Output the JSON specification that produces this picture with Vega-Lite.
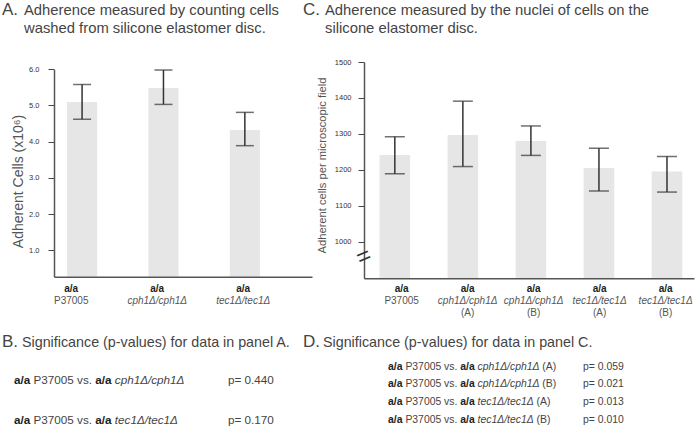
{
  "$schema": "https://vega.github.io/schema/vega-lite/v6.json",
  "background": "white",
  "width": 696,
  "height": 437,
  "autosize": {"type": "none"},
  "padding": 0,
  "config": {
    "view": {"stroke": null},
    "font": "Liberation Sans",
    "axis": {"grid": false, "labelFont": "Liberation Sans", "titleFont": "Liberation Sans"},
    "text": {"font": "Liberation Sans", "baseline": "alphabetic", "align": "left", "color": "#444"}
  },
  "datasets": {
    "adherenceA": [
      {"strain": "P37005", "mt": "a/a", "gene": "P37005", "rep": "", "mean": 5.10, "lo": 4.62, "hi": 5.58},
      {"strain": "cph1Δ/cph1Δ", "mt": "a/a", "gene": "cph1Δ/cph1Δ", "rep": "", "mean": 5.48, "lo": 5.03, "hi": 5.98},
      {"strain": "tec1Δ/tec1Δ", "mt": "a/a", "gene": "tec1Δ/tec1Δ", "rep": "", "mean": 4.32, "lo": 3.89, "hi": 4.81}
    ],
    "adherenceC": [
      {"strain": "P37005", "mt": "a/a", "gene": "P37005", "rep": "", "mean": 1241, "lo": 1189, "hi": 1292},
      {"strain": "cph1Δ/cph1Δ (A)", "mt": "a/a", "gene": "cph1Δ/cph1Δ", "rep": "(A)", "mean": 1297, "lo": 1209, "hi": 1391},
      {"strain": "cph1Δ/cph1Δ (B)", "mt": "a/a", "gene": "cph1Δ/cph1Δ", "rep": "(B)", "mean": 1280, "lo": 1240, "hi": 1322},
      {"strain": "tec1Δ/tec1Δ (A)", "mt": "a/a", "gene": "tec1Δ/tec1Δ", "rep": "(A)", "mean": 1205, "lo": 1141, "hi": 1260},
      {"strain": "tec1Δ/tec1Δ (B)", "mt": "a/a", "gene": "tec1Δ/tec1Δ", "rep": "(B)", "mean": 1195, "lo": 1138, "hi": 1237}
    ],
    "headings": [
      {"panel": "A", "letter": "A.", "line1": "Adherence measured by counting cells", "line2": "washed from silicone elastomer disc."},
      {"panel": "B", "letter": "B.", "line1": "Significance (p-values) for data in panel A.", "line2": ""},
      {"panel": "C", "letter": "C.", "line1": "Adherence measured by the nuclei of cells on the", "line2": "silicone elastomer disc."},
      {"panel": "D", "letter": "D.", "line1": "Significance (p-values) for data in panel C.", "line2": ""}
    ],
    "pvalsA": [
      {"cmp": "cph1", "a": "a/a", "s": "P37005 vs.", "b": "a/a", "g": "cph1Δ/cph1Δ", "r": "", "p": "p= 0.440"},
      {"cmp": "tec1", "a": "a/a", "s": "P37005 vs.", "b": "a/a", "g": "tec1Δ/tec1Δ", "r": "", "p": "p= 0.170"}
    ],
    "pvalsC": [
      {"cmp": "cph1A", "a": "a/a", "s": "P37005 vs.", "b": "a/a", "g": "cph1Δ/cph1Δ", "r": "(A)", "p": "p= 0.059"},
      {"cmp": "cph1B", "a": "a/a", "s": "P37005 vs.", "b": "a/a", "g": "cph1Δ/cph1Δ", "r": "(B)", "p": "p= 0.021"},
      {"cmp": "tec1A", "a": "a/a", "s": "P37005 vs.", "b": "a/a", "g": "tec1Δ/tec1Δ", "r": "(A)", "p": "p= 0.013"},
      {"cmp": "tec1B", "a": "a/a", "s": "P37005 vs.", "b": "a/a", "g": "tec1Δ/tec1Δ", "r": "(B)", "p": "p= 0.010"}
    ]
  },
  "layer": [
    {
      "data": {"name": "adherenceA"},
      "mark": {"type": "bar", "color": "#e6e6e6"},
      "encoding": {
        "x": {"field": "strain", "type": "nominal", "sort": null,
          "scale": {"domain": ["P37005", "cph1Δ/cph1Δ", "tec1Δ/tec1Δ"], "range": [54, 312], "paddingInner": 0.63, "paddingOuter": 0.4, "align": 0.2},
          "axis": {"orient": "top", "offset": -276.7, "title": null, "labels": false, "ticks": false, "domainColor": "#555", "domainWidth": 1.5, "zindex": 1}},
        "y": {"field": "mean", "type": "quantitative",
          "scale": {"domain": [0.27, 6], "range": [276.7, 69.3], "nice": false, "zero": false},
          "axis": {"orient": "left", "offset": -54, "title": "Adherent Cells (x10⁶)", "titleY": 181, "values": [1, 2, 3, 4, 5, 6], "format": ".1f", "tickSize": 6, "tickColor": "#444", "domainColor": "#555", "domainWidth": 1.5, "labelFontSize": 7.5, "labelColor": "#333", "labelPadding": 9, "titleFontSize": 14, "titleFontWeight": "normal", "titleColor": "#555", "titlePadding": 3}},
        "y2": {"datum": 0.27}
      }
    },
    {
      "data": {"name": "adherenceA"},
      "mark": {"type": "rule", "color": "#333", "strokeWidth": 1.5},
      "encoding": {
        "x": {"field": "strain", "type": "nominal", "sort": null, "axis": null,
          "scale": {"domain": ["P37005", "cph1Δ/cph1Δ", "tec1Δ/tec1Δ"], "range": [54, 312], "paddingInner": 0.63, "paddingOuter": 0.4, "align": 0.2}},
        "y": {"field": "lo", "type": "quantitative", "axis": null, "scale": {"domain": [0.27, 6], "range": [276.7, 69.3], "nice": false, "zero": false}},
        "y2": {"field": "hi"}
      }
    },
    {
      "data": {"name": "adherenceA"},
      "mark": {"type": "tick", "color": "#333", "thickness": 1.5, "size": 18},
      "encoding": {
        "x": {"field": "strain", "type": "nominal", "sort": null, "axis": null,
          "scale": {"domain": ["P37005", "cph1Δ/cph1Δ", "tec1Δ/tec1Δ"], "range": [54, 312], "paddingInner": 0.63, "paddingOuter": 0.4, "align": 0.2}},
        "y": {"field": "hi", "type": "quantitative", "axis": null, "scale": {"domain": [0.27, 6], "range": [276.7, 69.3], "nice": false, "zero": false}}
      }
    },
    {
      "data": {"name": "adherenceA"},
      "mark": {"type": "tick", "color": "#333", "thickness": 1.5, "size": 18},
      "encoding": {
        "x": {"field": "strain", "type": "nominal", "sort": null, "axis": null,
          "scale": {"domain": ["P37005", "cph1Δ/cph1Δ", "tec1Δ/tec1Δ"], "range": [54, 312], "paddingInner": 0.63, "paddingOuter": 0.4, "align": 0.2}},
        "y": {"field": "lo", "type": "quantitative", "axis": null, "scale": {"domain": [0.27, 6], "range": [276.7, 69.3], "nice": false, "zero": false}}
      }
    },
    {
      "data": {"name": "adherenceA"},
      "mark": {"type": "text", "fontSize": 10, "fontWeight": "bold", "color": "#222", "align": "center", "baseline": "middle"},
      "encoding": {
        "text": {"field": "mt"},
        "x": {"field": "strain", "type": "nominal", "sort": null, "axis": null,
          "scale": {"domain": ["P37005", "cph1Δ/cph1Δ", "tec1Δ/tec1Δ"], "range": [54, 312], "paddingInner": 0.63, "paddingOuter": 0.4, "align": 0.2}},
        "y": {"value": 289}
      }
    },
    {
      "data": {"name": "adherenceA"},
      "transform": [{"filter": "datum.gene == 'P37005'"}],
      "mark": {"type": "text", "fontSize": 10, "color": "#555", "align": "center", "baseline": "middle"},
      "encoding": {
        "text": {"field": "gene"},
        "x": {"field": "strain", "type": "nominal", "sort": null, "axis": null,
          "scale": {"domain": ["P37005", "cph1Δ/cph1Δ", "tec1Δ/tec1Δ"], "range": [54, 312], "paddingInner": 0.63, "paddingOuter": 0.4, "align": 0.2}},
        "y": {"value": 301}
      }
    },
    {
      "data": {"name": "adherenceA"},
      "transform": [{"filter": "datum.gene != 'P37005'"}],
      "mark": {"type": "text", "fontSize": 10, "fontStyle": "italic", "color": "#555", "align": "center", "baseline": "middle"},
      "encoding": {
        "text": {"field": "gene"},
        "x": {"field": "strain", "type": "nominal", "sort": null, "axis": null,
          "scale": {"domain": ["P37005", "cph1Δ/cph1Δ", "tec1Δ/tec1Δ"], "range": [54, 312], "paddingInner": 0.63, "paddingOuter": 0.4, "align": 0.2}},
        "y": {"value": 301}
      }
    },
    {
      "data": {"name": "adherenceC"},
      "mark": {"type": "bar", "color": "#e6e6e6"},
      "encoding": {
        "x": {"field": "strain", "type": "nominal", "sort": null,
          "scale": {"domain": ["P37005", "cph1Δ/cph1Δ (A)", "cph1Δ/cph1Δ (B)", "tec1Δ/tec1Δ (A)", "tec1Δ/tec1Δ (B)"], "range": [364, 694], "paddingInner": 0.55, "paddingOuter": 0.2, "align": 0.57},
          "axis": {"orient": "top", "offset": -278.3, "title": null, "labels": false, "ticks": false, "domainColor": "#555", "domainWidth": 1.5, "zindex": 1}},
        "y": {"field": "mean", "type": "quantitative",
          "scale": {"domain": [898, 1500], "range": [278.3, 62], "nice": false, "zero": false},
          "axis": {"orient": "left", "offset": -364, "title": "Adherent cells per microscopic field", "titleY": 165, "values": [1000, 1100, 1200, 1300, 1400, 1500], "format": "d", "tickSize": 6, "tickColor": "#444", "domainColor": "#555", "domainWidth": 1.5, "labelFontSize": 7.5, "labelColor": "#333", "labelPadding": 7, "titleFontSize": 11.2, "titleFontWeight": "normal", "titleColor": "#555", "titlePadding": 7}},
        "y2": {"datum": 898}
      }
    },
    {
      "data": {"name": "adherenceC"},
      "mark": {"type": "rule", "color": "#333", "strokeWidth": 1.5},
      "encoding": {
        "x": {"field": "strain", "type": "nominal", "sort": null, "axis": null,
          "scale": {"domain": ["P37005", "cph1Δ/cph1Δ (A)", "cph1Δ/cph1Δ (B)", "tec1Δ/tec1Δ (A)", "tec1Δ/tec1Δ (B)"], "range": [364, 694], "paddingInner": 0.55, "paddingOuter": 0.2, "align": 0.57}},
        "y": {"field": "lo", "type": "quantitative", "axis": null, "scale": {"domain": [898, 1500], "range": [278.3, 62], "nice": false, "zero": false}},
        "y2": {"field": "hi"}
      }
    },
    {
      "data": {"name": "adherenceC"},
      "mark": {"type": "tick", "color": "#333", "thickness": 1.5, "size": 20},
      "encoding": {
        "x": {"field": "strain", "type": "nominal", "sort": null, "axis": null,
          "scale": {"domain": ["P37005", "cph1Δ/cph1Δ (A)", "cph1Δ/cph1Δ (B)", "tec1Δ/tec1Δ (A)", "tec1Δ/tec1Δ (B)"], "range": [364, 694], "paddingInner": 0.55, "paddingOuter": 0.2, "align": 0.57}},
        "y": {"field": "hi", "type": "quantitative", "axis": null, "scale": {"domain": [898, 1500], "range": [278.3, 62], "nice": false, "zero": false}}
      }
    },
    {
      "data": {"name": "adherenceC"},
      "mark": {"type": "tick", "color": "#333", "thickness": 1.5, "size": 20},
      "encoding": {
        "x": {"field": "strain", "type": "nominal", "sort": null, "axis": null,
          "scale": {"domain": ["P37005", "cph1Δ/cph1Δ (A)", "cph1Δ/cph1Δ (B)", "tec1Δ/tec1Δ (A)", "tec1Δ/tec1Δ (B)"], "range": [364, 694], "paddingInner": 0.55, "paddingOuter": 0.2, "align": 0.57}},
        "y": {"field": "lo", "type": "quantitative", "axis": null, "scale": {"domain": [898, 1500], "range": [278.3, 62], "nice": false, "zero": false}}
      }
    },
    {
      "data": {"name": "adherenceC"},
      "mark": {"type": "text", "fontSize": 10, "fontWeight": "bold", "color": "#222", "align": "center", "baseline": "middle"},
      "encoding": {
        "text": {"field": "mt"},
        "x": {"field": "strain", "type": "nominal", "sort": null, "axis": null,
          "scale": {"domain": ["P37005", "cph1Δ/cph1Δ (A)", "cph1Δ/cph1Δ (B)", "tec1Δ/tec1Δ (A)", "tec1Δ/tec1Δ (B)"], "range": [364, 694], "paddingInner": 0.55, "paddingOuter": 0.2, "align": 0.57}},
        "y": {"value": 289}
      }
    },
    {
      "data": {"name": "adherenceC"},
      "transform": [{"filter": "datum.gene == 'P37005'"}],
      "mark": {"type": "text", "fontSize": 10, "color": "#555", "align": "center", "baseline": "middle"},
      "encoding": {
        "text": {"field": "gene"},
        "x": {"field": "strain", "type": "nominal", "sort": null, "axis": null,
          "scale": {"domain": ["P37005", "cph1Δ/cph1Δ (A)", "cph1Δ/cph1Δ (B)", "tec1Δ/tec1Δ (A)", "tec1Δ/tec1Δ (B)"], "range": [364, 694], "paddingInner": 0.55, "paddingOuter": 0.2, "align": 0.57}},
        "y": {"value": 301}
      }
    },
    {
      "data": {"name": "adherenceC"},
      "transform": [{"filter": "datum.gene != 'P37005'"}],
      "mark": {"type": "text", "fontSize": 10, "fontStyle": "italic", "color": "#555", "align": "center", "baseline": "middle"},
      "encoding": {
        "text": {"field": "gene"},
        "x": {"field": "strain", "type": "nominal", "sort": null, "axis": null,
          "scale": {"domain": ["P37005", "cph1Δ/cph1Δ (A)", "cph1Δ/cph1Δ (B)", "tec1Δ/tec1Δ (A)", "tec1Δ/tec1Δ (B)"], "range": [364, 694], "paddingInner": 0.55, "paddingOuter": 0.2, "align": 0.57}},
        "y": {"value": 301}
      }
    },
    {
      "data": {"name": "adherenceC"},
      "transform": [{"filter": "datum.rep != ''"}],
      "mark": {"type": "text", "fontSize": 10, "color": "#555", "align": "center", "baseline": "middle"},
      "encoding": {
        "text": {"field": "rep"},
        "x": {"field": "strain", "type": "nominal", "sort": null, "axis": null,
          "scale": {"domain": ["P37005", "cph1Δ/cph1Δ (A)", "cph1Δ/cph1Δ (B)", "tec1Δ/tec1Δ (A)", "tec1Δ/tec1Δ (B)"], "range": [364, 694], "paddingInner": 0.55, "paddingOuter": 0.2, "align": 0.57}},
        "y": {"value": 313}
      }
    },
    {
      "data": {"name": "adherenceC"},
      "transform": [{"filter": "datum.strain == 'P37005'"}],
      "mark": {"type": "text", "text": "=", "angle": -23, "fontSize": 24, "align": "center", "baseline": "middle", "color": "#333"},
      "encoding": {
        "x": {"value": 364},
        "y": {"datum": 957, "type": "quantitative", "axis": null, "scale": {"domain": [898, 1500], "range": [278.3, 62], "nice": false, "zero": false}}
      }
    },
    {
      "data": {"name": "headings"},
      "transform": [{"filter": "datum.panel == 'A' || datum.panel == 'B'"}],
      "mark": {"type": "text", "fontSize": 17},
      "encoding": {
        "text": {"field": "letter"},
        "x": {"value": 2},
        "y": {"field": "panel", "type": "nominal", "axis": null, "scale": {"type": "point", "domain": ["A", "B"], "range": [15, 347], "padding": 0}}
      }
    },
    {
      "data": {"name": "headings"},
      "transform": [{"filter": "datum.panel == 'A'"}],
      "mark": {"type": "text", "fontSize": 14.8},
      "encoding": {"text": {"field": "line1"}, "x": {"value": 24}, "y": {"value": 15}}
    },
    {
      "data": {"name": "headings"},
      "transform": [{"filter": "datum.panel == 'B'"}],
      "mark": {"type": "text", "fontSize": 14.3},
      "encoding": {"text": {"field": "line1"}, "x": {"value": 22}, "y": {"value": 347}}
    },
    {
      "data": {"name": "headings"},
      "transform": [{"filter": "datum.panel == 'C' || datum.panel == 'D'"}],
      "mark": {"type": "text", "fontSize": 17},
      "encoding": {
        "text": {"field": "letter"},
        "x": {"value": 303},
        "y": {"field": "panel", "type": "nominal", "axis": null, "scale": {"type": "point", "domain": ["C", "D"], "range": [15, 347], "padding": 0}}
      }
    },
    {
      "data": {"name": "headings"},
      "transform": [{"filter": "datum.panel == 'C'"}],
      "mark": {"type": "text", "fontSize": 14.8},
      "encoding": {"text": {"field": "line1"}, "x": {"value": 325}, "y": {"value": 15}}
    },
    {
      "data": {"name": "headings"},
      "transform": [{"filter": "datum.panel == 'D'"}],
      "mark": {"type": "text", "fontSize": 14.3},
      "encoding": {"text": {"field": "line1"}, "x": {"value": 323}, "y": {"value": 347}}
    },
    {
      "data": {"name": "headings"},
      "transform": [{"filter": "datum.panel == 'A'"}],
      "mark": {"type": "text", "fontSize": 14.8},
      "encoding": {"text": {"field": "line2"}, "x": {"value": 24}, "y": {"value": 32.5}}
    },
    {
      "data": {"name": "headings"},
      "transform": [{"filter": "datum.panel == 'C'"}],
      "mark": {"type": "text", "fontSize": 14.8},
      "encoding": {"text": {"field": "line2"}, "x": {"value": 325}, "y": {"value": 32.5}}
    },
    {
      "data": {"name": "pvalsA"},
      "mark": {"type": "text", "fontSize": 11.7, "fontWeight": "bold", "color": "#222", "baseline": "middle"},
      "encoding": {"text": {"field": "a"}, "x": {"value": 14},
        "y": {"field": "cmp", "type": "nominal", "axis": null, "scale": {"type": "point", "domain": ["cph1", "tec1"], "range": [380, 420], "padding": 0}}}
    },
    {
      "data": {"name": "pvalsA"},
      "mark": {"type": "text", "fontSize": 11.7, "baseline": "middle"},
      "encoding": {"text": {"field": "s"}, "x": {"value": 33.5},
        "y": {"field": "cmp", "type": "nominal", "axis": null, "scale": {"type": "point", "domain": ["cph1", "tec1"], "range": [380, 420], "padding": 0}}}
    },
    {
      "data": {"name": "pvalsA"},
      "mark": {"type": "text", "fontSize": 11.7, "fontWeight": "bold", "color": "#222", "baseline": "middle"},
      "encoding": {"text": {"field": "b"}, "x": {"value": 95.3},
        "y": {"field": "cmp", "type": "nominal", "axis": null, "scale": {"type": "point", "domain": ["cph1", "tec1"], "range": [380, 420], "padding": 0}}}
    },
    {
      "data": {"name": "pvalsA"},
      "mark": {"type": "text", "fontSize": 11.7, "fontStyle": "italic", "baseline": "middle"},
      "encoding": {"text": {"field": "g"}, "x": {"value": 114.8},
        "y": {"field": "cmp", "type": "nominal", "axis": null, "scale": {"type": "point", "domain": ["cph1", "tec1"], "range": [380, 420], "padding": 0}}}
    },
    {
      "data": {"name": "pvalsA"},
      "mark": {"type": "text", "fontSize": 11.7, "baseline": "middle"},
      "encoding": {"text": {"field": "p"}, "x": {"value": 228},
        "y": {"field": "cmp", "type": "nominal", "axis": null, "scale": {"type": "point", "domain": ["cph1", "tec1"], "range": [380, 420], "padding": 0}}}
    },
    {
      "data": {"name": "pvalsC"},
      "mark": {"type": "text", "fontSize": 10.4, "fontWeight": "bold", "color": "#222", "baseline": "middle"},
      "encoding": {"text": {"field": "a"}, "x": {"value": 388},
        "y": {"field": "cmp", "type": "nominal", "axis": null, "scale": {"type": "point", "domain": ["cph1A", "cph1B", "tec1A", "tec1B"], "range": [366.5, 419.6], "padding": 0}}}
    },
    {
      "data": {"name": "pvalsC"},
      "mark": {"type": "text", "fontSize": 10.4, "baseline": "middle"},
      "encoding": {"text": {"field": "s"}, "x": {"value": 405.4},
        "y": {"field": "cmp", "type": "nominal", "axis": null, "scale": {"type": "point", "domain": ["cph1A", "cph1B", "tec1A", "tec1B"], "range": [366.5, 419.6], "padding": 0}}}
    },
    {
      "data": {"name": "pvalsC"},
      "mark": {"type": "text", "fontSize": 10.4, "fontWeight": "bold", "color": "#222", "baseline": "middle"},
      "encoding": {"text": {"field": "b"}, "x": {"value": 460.3},
        "y": {"field": "cmp", "type": "nominal", "axis": null, "scale": {"type": "point", "domain": ["cph1A", "cph1B", "tec1A", "tec1B"], "range": [366.5, 419.6], "padding": 0}}}
    },
    {
      "data": {"name": "pvalsC"},
      "mark": {"type": "text", "fontSize": 10.4, "fontStyle": "italic", "baseline": "middle"},
      "encoding": {"text": {"field": "g"}, "x": {"value": 477.6},
        "y": {"field": "cmp", "type": "nominal", "axis": null, "scale": {"type": "point", "domain": ["cph1A", "cph1B", "tec1A", "tec1B"], "range": [366.5, 419.6], "padding": 0}}}
    },
    {
      "data": {"name": "pvalsC"},
      "transform": [{"filter": "indexof(datum.g, 'cph1') == 0"}],
      "mark": {"type": "text", "fontSize": 10.4, "baseline": "middle"},
      "encoding": {"text": {"field": "r"}, "x": {"value": 542.3},
        "y": {"field": "cmp", "type": "nominal", "axis": null, "scale": {"type": "point", "domain": ["cph1A", "cph1B", "tec1A", "tec1B"], "range": [366.5, 419.6], "padding": 0}}}
    },
    {
      "data": {"name": "pvalsC"},
      "transform": [{"filter": "indexof(datum.g, 'tec1') == 0"}],
      "mark": {"type": "text", "fontSize": 10.4, "baseline": "middle"},
      "encoding": {"text": {"field": "r"}, "x": {"value": 536.5},
        "y": {"field": "cmp", "type": "nominal", "axis": null, "scale": {"type": "point", "domain": ["cph1A", "cph1B", "tec1A", "tec1B"], "range": [366.5, 419.6], "padding": 0}}}
    },
    {
      "data": {"name": "pvalsC"},
      "mark": {"type": "text", "fontSize": 10.4, "baseline": "middle"},
      "encoding": {"text": {"field": "p"}, "x": {"value": 583},
        "y": {"field": "cmp", "type": "nominal", "axis": null, "scale": {"type": "point", "domain": ["cph1A", "cph1B", "tec1A", "tec1B"], "range": [366.5, 419.6], "padding": 0}}}
    }
  ],
  "resolve": {"scale": {"x": "independent", "y": "independent"}, "axis": {"x": "independent", "y": "independent"}}
}
